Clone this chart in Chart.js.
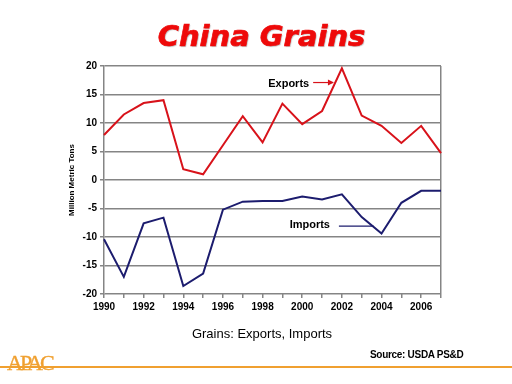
<!DOCTYPE html>
<html>
<head>
<meta charset="utf-8">
<script src="https://cdn.jsdelivr.net/npm/chart.js@4.4.1/dist/chart.umd.min.js"></script>
<style>
  html, body { margin: 0; padding: 0; background: #fff; }
  #wrap { position: relative; width: 512px; height: 384px; overflow: hidden; }
  #chart { position: absolute; left: 0; top: 0; }
  .title {
    position: absolute; left: 0; width: 523px; top: 19px; text-align: center;
    font: italic bold 29px 'DejaVu Sans', sans-serif; color: #ee0a0a;
    -webkit-text-stroke: 0.7px #ee0a0a;
    text-shadow: 1px 1px 1px rgba(0,0,0,0.25);
  }
  .xtitle {
    position: absolute; left: 0; width: 524px; top: 326px; text-align: center;
    font: 13px 'Liberation Sans', Arial, sans-serif; color: #000;
  }
  .source {
    position: absolute; left: 370px; top: 349px;
    font: bold 10px 'Liberation Sans', Arial, sans-serif; color: #000; letter-spacing: -0.3px;
  }
  .logo {
    position: absolute; left: 7px; top: 350px;
    font: 22px 'Liberation Serif', 'DejaVu Serif', serif; color: #f0a030; letter-spacing: -3px;
    -webkit-text-stroke: 0.4px #f0a030;
  }
  .rule { position: absolute; left: 0; top: 366px; width: 512px; height: 2px; background: #f0a030; }
</style>
</head>
<body>
<div id="wrap">
  <canvas id="chart" width="512" height="384"></canvas>
  <div class="title">China Grains</div>
  <div class="xtitle">Grains: Exports, Imports</div>
  <div class="rule"></div>
  <div class="logo">APAC</div>
  <div class="source">Source: USDA PS&amp;D</div>
</div>
<script>
const years = ['1990','1991','1992','1993','1994','1995','1996','1997','1998',
               '1999','2000','2001','2002','2003','2004','2005','2006','2007'];
const exportsMt = [7.9, 11.5, 13.5, 14.0, 1.9, 1.0, 6.1, 11.2, 6.6,
                   13.4, 9.8, 12.1, 19.6, 11.3, 9.5, 6.5, 9.5, 4.7];
const importsMt = [-10.4, -17.0, -7.6, -6.6, -18.6, -16.4, -5.2, -3.8, -3.7,
                   -3.7, -2.9, -3.4, -2.5, -6.5, -9.4, -4.0, -1.9, -1.9];
const yTicks = [-20, -15, -10, -5, 0, 5, 10, 15, 20];

// label callouts, anchored in data space: [text, labelEndIdx, labelVal, lineFromIdx, lineToIdx, lineVal, arrow]
const callouts = [
    ['Exports', 10.35, 16.9, 10.55, 11.55, 17.1, true],
    ['Imports', 11.40, -7.9, 11.85, 13.6, -8.1, false]
];

const GRID = '#858585';

const calloutPlugin = {
    id: 'callouts',
    afterDatasetsDraw(chart) {
        const ctx = chart.ctx;
        const x = chart.scales.x, y = chart.scales.y;
        callouts.forEach((c, i) => {
            const color = chart.data.datasets[i].borderColor;
            ctx.save();
            ctx.font = "bold 11px 'Liberation Sans', Arial, sans-serif";
            ctx.fillStyle = '#000';
            ctx.textAlign = 'right';
            ctx.textBaseline = 'middle';
            ctx.fillText(c[0], x.getPixelForValue(c[1]), y.getPixelForValue(c[2]));
            const x1 = x.getPixelForValue(c[3]), x2 = x.getPixelForValue(c[4]);
            const ly = y.getPixelForValue(c[5]);
            ctx.strokeStyle = color;
            ctx.fillStyle = color;
            ctx.lineWidth = 1.2;
            ctx.beginPath();
            ctx.moveTo(x1, ly);
            ctx.lineTo(x2, ly);
            ctx.stroke();
            if (c[6]) {
                ctx.beginPath();
                ctx.moveTo(x2 + 1, ly);
                ctx.lineTo(x2 - 5, ly - 3);
                ctx.lineTo(x2 - 5, ly + 3);
                ctx.closePath();
                ctx.fill();
            }
            ctx.restore();
        });
    }
};

new Chart(document.getElementById('chart'), {
    type: 'line',
    data: {
        labels: years,
        datasets: [
            {
                label: 'Exports',
                data: exportsMt,
                borderColor: '#d8121a',
                borderWidth: 2,
                pointRadius: 0,
                tension: 0
            },
            {
                label: 'Imports',
                data: importsMt,
                borderColor: '#1c1c6e',
                borderWidth: 2,
                pointRadius: 0,
                tension: 0
            }
        ]
    },
    options: {
        responsive: false,
        animation: false,
        layout: { padding: { left: 60, top: 66, right: 71, bottom: 66 } },
        plugins: {
            legend: { display: false },
            tooltip: { enabled: false }
        },
        scales: {
            x: {
                offset: false,
                afterFit(scale) { scale.height = 24; },
                grid: {
                    color: ctx => ctx.index === years.length - 1 ? GRID : 'transparent',
                    lineWidth: 1.5,
                    tickColor: GRID,
                    tickLength: 4
                },
                border: { display: false },
                ticks: {
                    autoSkip: false,
                    maxRotation: 0,
                    padding: 3,
                    color: '#000',
                    font: { family: "'Liberation Sans', Arial, sans-serif", size: 10, weight: 'bold' },
                    callback: function (v, i) { return i % 2 === 0 ? years[i] : ''; }
                }
            },
            y: {
                min: -20,
                max: 20,
                afterFit(scale) { scale.width = 44; },
                afterBuildTicks(scale) { scale.ticks = yTicks.map(v => ({ value: v })); },
                grid: { color: GRID, lineWidth: 1.5, tickLength: 4, tickColor: GRID },
                border: { color: GRID, width: 1.5 },
                title: {
                    display: true,
                    text: 'Million Metric Tons',
                    color: '#000',
                    padding: { top: 7, bottom: 0 },
                    font: { family: "'Liberation Sans', Arial, sans-serif", size: 8, weight: 'bold' }
                },
                ticks: {
                    padding: 3,
                    color: '#000',
                    font: { family: "'Liberation Sans', Arial, sans-serif", size: 10, weight: 'bold' }
                }
            }
        }
    },
    plugins: [calloutPlugin]
});
</script>
</body>
</html>
